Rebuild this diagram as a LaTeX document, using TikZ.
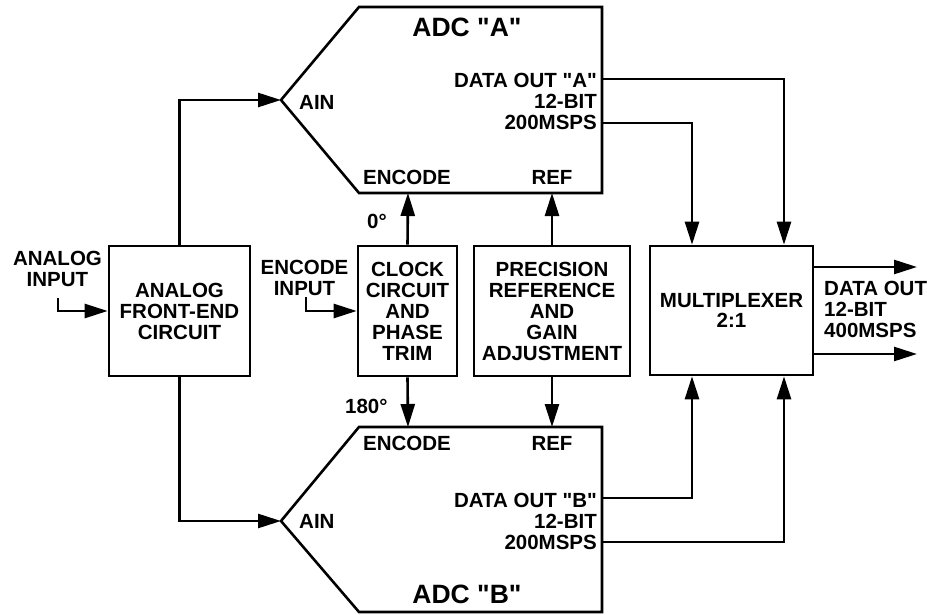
\documentclass[tikz,border=0pt]{standalone}
\usepackage{fontspec}
\setmainfont{Liberation Sans}
\usetikzlibrary{arrows.meta}
\newcommand\lblfont{\fontsize{20.5}{21}\selectfont\bfseries}
\newcommand\bigfont{\fontsize{26.5}{28}\selectfont\bfseries}
\newcommand\dq{\textquotedbl}
\begin{document}
\begin{tikzpicture}[x=1pt,y=-1pt,
  lw/.style={line width=2.6pt},
  box/.style={draw,lw,inner sep=0,align=center,font=\lblfont},
  lbl/.style={inner sep=0,font=\lblfont},
  big/.style={inner sep=0,font=\bigfont},
  arr/.style={lw,-{Triangle[length=23pt,width=14pt]}},
  wire/.style={lw}]
\useasboundingbox (0,0) rectangle (927,615);

% ADC shapes
\draw[lw,line join=miter] (359,7) -- (602,7) -- (602,193) -- (359,193) -- (281,100) -- cycle;
\draw[lw,line join=miter] (359,427) -- (602,427) -- (602,612) -- (359,612) -- (281,521) -- cycle;

% ports
\coordinate (ainA) at (281,100);
\coordinate (ainB) at (281,521);
\coordinate (encA) at (408,193);
\coordinate (refA) at (552,193);
\coordinate (encB) at (408,427);
\coordinate (refB) at (552,427);
\coordinate (doA) at (602,79);
\coordinate (msA) at (602,123);
\coordinate (doB) at (602,498);
\coordinate (msB) at (602,542);
\coordinate (ai) at (58,298);
\coordinate (ei) at (306,297);
\coordinate (o1) at (917,267);
\coordinate (o2) at (917,354);

% boxes
\node[box,minimum width=141pt,minimum height=130pt] (afe) at (179.5,311) {ANALOG\\FRONT-END\\CIRCUIT};
\node[box,minimum width=99pt,minimum height=130pt] (clk) at (407.5,311) {CLOCK\\CIRCUIT\\AND\\PHASE\\TRIM};
\node[box,minimum width=156pt,minimum height=130pt] (ref) at (552,311) {PRECISION\\REFERENCE\\AND\\GAIN\\ADJUSTMENT};
\node[box,minimum width=163pt,minimum height=129pt] (mux) at (731.5,310.5) {MULTIPLEXER\\[-1pt]2:1};

% labels
\node[big,anchor=base] (tA) at (467,37) {ADC \dq A\dq};
\node[big,anchor=base] (tB) at (467,603) {ADC \dq B\dq};
\node[lbl,anchor=base west] (ainAl) at (299,110) {AIN};
\node[lbl,anchor=base west] (ainBl) at (299,528) {AIN};
\node[lbl,anchor=base west] (encAl) at (363,185) {ENCODE};
\node[lbl,anchor=base] (refAl) at (552,185) {REF};
\node[lbl,anchor=base west] (encBl) at (363,450) {ENCODE};
\node[lbl,anchor=base] (refBl) at (552,450) {REF};
\node[lbl,align=right,anchor=east] (doAl) at (597,101) {DATA OUT \dq A\dq\\12-BIT\\200MSPS};
\node[lbl,align=right,anchor=east] (doBl) at (597,521) {DATA OUT \dq B\dq\\12-BIT\\200MSPS};
\node[lbl,anchor=base west] (deg0) at (367,229) {0°};
\node[lbl,anchor=base west] (deg180) at (345,413) {180°};
\node[lbl,align=center] (anin) at (57.5,269) {ANALOG\\INPUT};
\node[lbl,align=center] (encin) at (304.5,278) {ENCODE\\INPUT};
\node[lbl,align=left,anchor=west] (dout) at (824,309) {DATA OUT\\12-BIT\\400MSPS};

% connectors
\draw[arr] (afe.north) |- (ainA);
\draw[arr] (afe.south) |- (ainB);
\draw[arr] (ai) |- (afe.west);
\draw[arr] (ei) |- (clk.west);
\draw[arr] (clk.north) -- (encA);
\draw[arr] (clk.south) -- (encB);
\draw[arr] (ref.north) -- (refA);
\draw[arr] (ref.south) -- (refB);
\draw[arr] (doA) -| ([xshift=52.5pt]mux.north);
\draw[arr] (msA) -| ([xshift=-39.5pt]mux.north);
\draw[arr] (doB) -| ([xshift=-39.5pt]mux.south);
\draw[arr] (msB) -| ([xshift=52.5pt]mux.south);
\draw[arr] (mux.east |- o1) -- (o1);
\draw[arr] (mux.east |- o2) -- (o2);
\end{tikzpicture}
\end{document}
